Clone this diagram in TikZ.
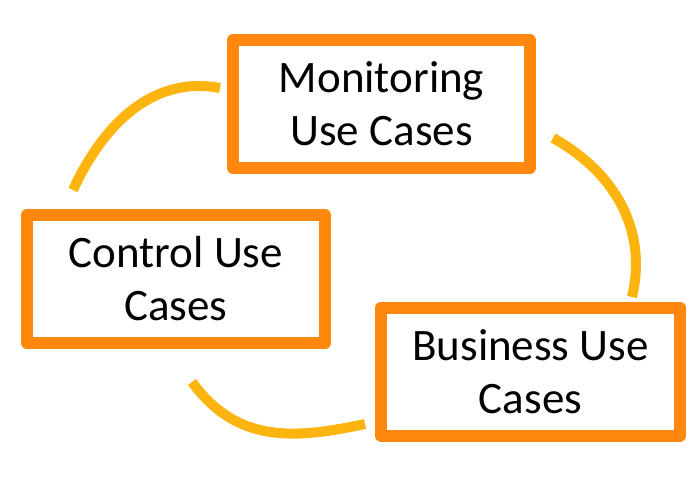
\documentclass[tikz,border=0pt]{standalone}
\usepackage{fontspec}
\setmainfont{Carlito}
\definecolor{boxorange}{RGB}{254,136,14}
\definecolor{arcyellow}{RGB}{253,180,14}
\begin{document}
\begin{tikzpicture}[x=1pt,y=-1pt,
  ucbox/.style={draw=boxorange, line width=12pt, line join=round, fill=white,
    rectangle, inner sep=0pt, minimum width=297pt, minimum height=128pt,
    align=center, font=\fontsize{45}{53}\selectfont, text=black},
  arcline/.style={draw=arcyellow, line width=10pt, line cap=butt}]
\useasboundingbox (0,0) rectangle (694,484);
% arcs
\coordinate (a1s) at (73,190);
\coordinate (a1e) at (220,88);
\coordinate (a2s) at (553,138);
\coordinate (a2e) at (632,297);
\coordinate (a3s) at (192,382);
\coordinate (a3e) at (365,424);
\draw[arcline] (a1s) .. controls (102,127) and (151,75) .. (a1e);
\draw[arcline] (a2s) .. controls (614,172) and (648,229) .. (a2e);
\draw[arcline] (a3s) .. controls (236,442) and (291,440) .. (a3e);
% boxes
\node[ucbox] (mon) at (381.5,104) {Monitoring\\Use Cases};
\node[ucbox, minimum width=298pt] (ctl) at (176,279) {Control Use\\Cases};
\node[ucbox, minimum width=299pt] (bus) at (530.5,371.5) {Business Use\\Cases};
\end{tikzpicture}
\end{document}
